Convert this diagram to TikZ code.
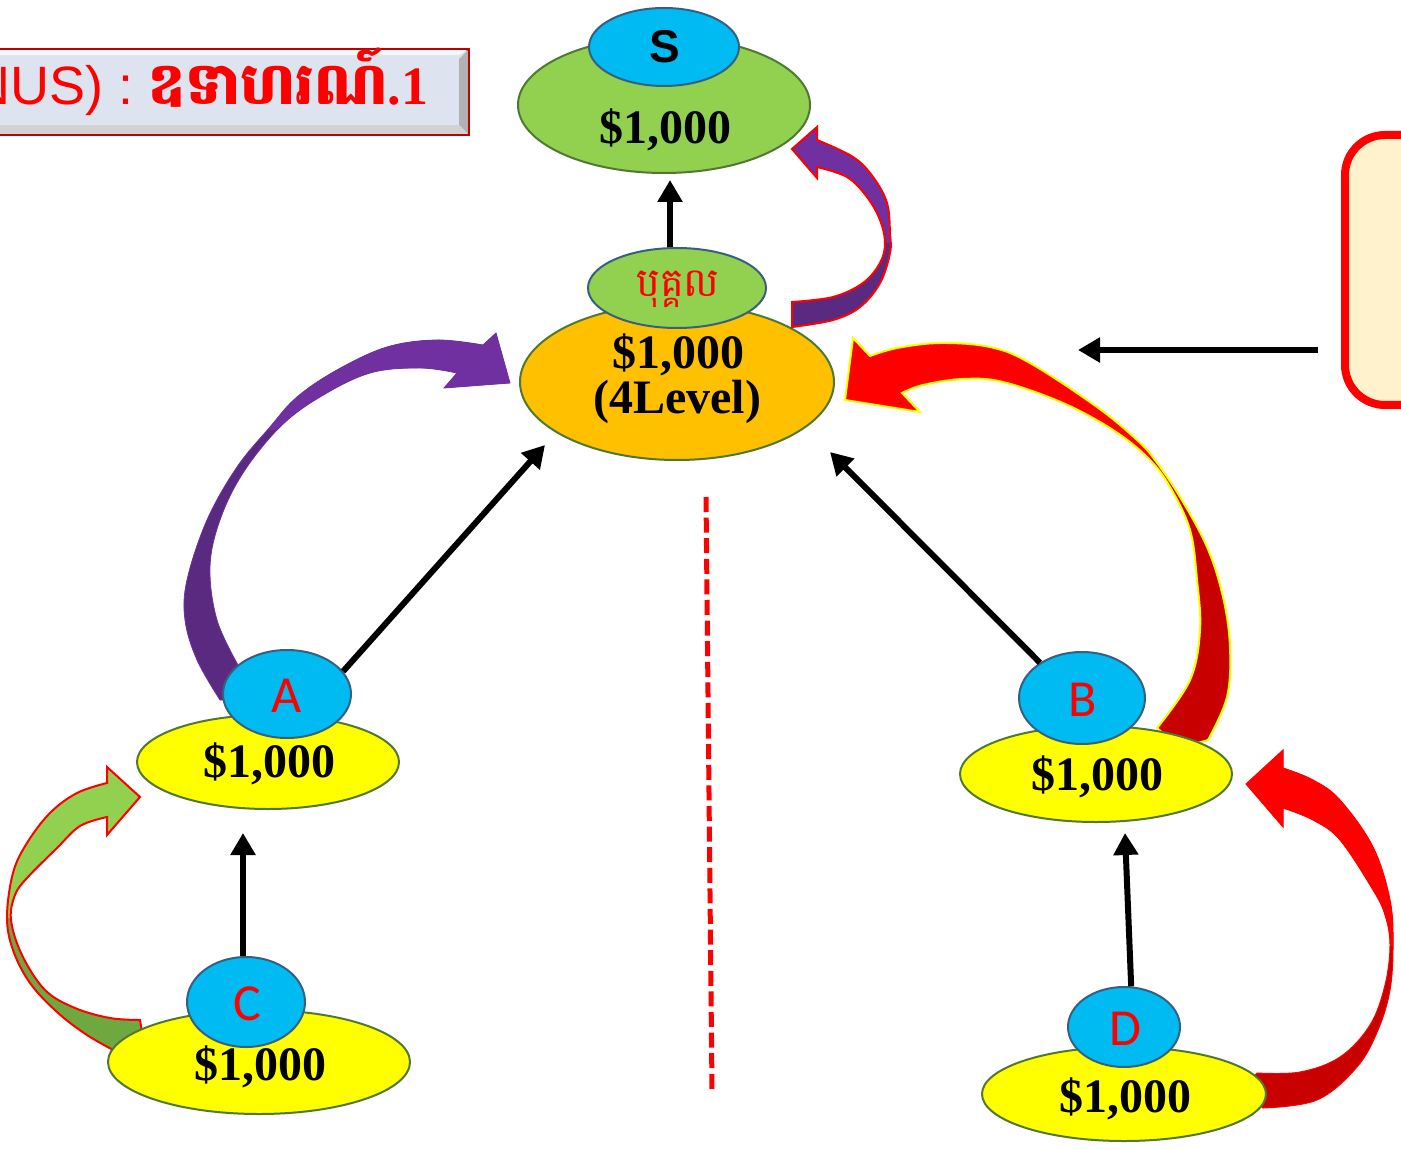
\documentclass[tikz,border=0pt]{standalone}
\usepackage{fontspec}
\setmainfont{Liberation Serif}
\newfontfamily\khmerfont[Script=Khmer]{Battambang}
\newfontfamily\carlitofont{Carlito}
\newfontfamily\arialfont{Liberation Sans}
\usetikzlibrary{shapes.geometric,arrows.meta}

\definecolor{cBlue}{RGB}{0,186,242}
\definecolor{cBlueEdge}{RGB}{55,96,128}
\definecolor{cGreen}{RGB}{146,208,80}
\definecolor{cGreenDk}{RGB}{112,168,64}
\definecolor{cOlive}{RGB}{80,120,50}
\definecolor{cOrange}{RGB}{255,192,0}
\definecolor{cYellow}{RGB}{255,255,0}
\definecolor{cRed}{RGB}{255,0,0}
\definecolor{cDarkRed}{RGB}{200,0,0}
\definecolor{cBorderRed}{RGB}{192,0,0}
\definecolor{cPurple}{RGB}{112,48,160}
\definecolor{cPurpleDk}{RGB}{90,42,128}
\definecolor{cCream}{RGB}{255,242,204}
\definecolor{cTitle}{RGB}{221,228,240}

\newcommand{\twotone}[5]{%
  \fill[#3] #1;
  \begin{scope}
    \clip (-60,-60) rectangle (1500,#4);
    \fill[#2] #1;
  \end{scope}
  \draw[#5] #1;
}

\tikzset{
  ell/.style={ellipse, inner sep=0pt, line width=1pt},
  blueell/.style={ell, fill=cBlue, draw=cBlueEdge},
  yellowell/.style={ell, fill=cYellow, draw=cOlive},
  greenell/.style={ell, fill=cGreen, draw=cOlive},
  orangeell/.style={ell, fill=cOrange, draw=cOlive},
  money/.style={anchor=base, inner sep=0pt, font=\fontsize{24}{24}\selectfont\bfseries},
  letterlbl/.style={anchor=base, inner sep=0pt, text=cRed, font=\carlitofont\fontsize{26}{26}\selectfont},
  blk/.style={draw=black, line width=3pt, -{Triangle[length=11pt,width=12pt]}},
  titlebox/.style={rectangle, inner sep=0pt, fill=cTitle, draw=cBorderRed, line width=1.2pt},
  notebox/.style={rectangle, rounded corners=20pt, inner sep=0pt, fill=cCream, draw=cRed, line width=4pt},
  dashline/.style={draw=cRed, line width=2.5pt, dash pattern=on 7.5pt off 2.8pt},
}

\begin{document}
\begin{tikzpicture}[x=0.5pt,y=-0.5pt]
\useasboundingbox (0,0) rectangle (1401,1149);
\begin{scope}
\clip (0,0) rectangle (1401,1149);

% title box
\node[titlebox, minimum width=246pt, minimum height=42pt] (T) at (222,92) {};
\fill[gray!60] (T.north east) -- (T.south east) -- ([shift={(-5pt,5pt)}]T.south east) -- ([shift={(-5pt,-5pt)}]T.north east) -- cycle;
\fill[gray!35] (T.south west) -- (T.south east) -- ([shift={(-5pt,5pt)}]T.south east) -- ([shift={(5pt,5pt)}]T.south west) -- cycle;
\fill[white!70!cTitle] (T.north west) -- (T.north east) -- ([shift={(-5pt,-3pt)}]T.north east) -- ([shift={(5pt,-3pt)}]T.north west) -- cycle;
\draw[cBorderRed, line width=1.2pt] (T.north west) rectangle (T.south east);
\node[anchor=base west, inner sep=0pt, text=cRed] (Tt) at (10,105)
  {\arialfont\fontsize{27}{27}\selectfont\llap{N}US)~:~\khmerfont\bfseries\fontsize{29}{29}\selectfont ឧទាហរណ៍\rmfamily\bfseries\fontsize{27}{27}\selectfont.1};

% note box
\node[notebox, minimum width=68pt, minimum height=135pt] (Nb) at (1413,270) {};

% block arrows behind ellipses
\twotone{(510,383) -- (496,333) -- plot[smooth, tension=0.6] coordinates {(483,345) (437,340) (387,347) (337,370) (297,397) (270,427) (237,467) (207,520) (187,580) (185,620) (197,660) (220,700)} -- (250,700) -- plot[smooth, tension=0.6] coordinates {(238,665) (217,620) (210,567) (220,520) (243,473) (280,427) (320,397) (370,373) (420,368) (457,373)} -- (444,388) -- cycle}{cPurple}{cPurpleDk}{430}{cPurple, line width=0.4pt}

\twotone{(845,400) -- (853,338) -- plot[smooth, tension=0.6] coordinates {(870,356) (897,348) (940,343) (990,347) (1030,363) (1097,407) (1137,440) (1155,460) (1180,497) (1207,547) (1223,597) (1230,647) (1227,697) (1208,740)} -- (1180,748) -- plot[smooth, tension=0.6] coordinates {(1157,728) (1190,680) (1200,630) (1197,580) (1190,530) (1170,487) (1148,458) (1113,430) (1063,403) (1003,382) (963,379) (923,385) (902,393)} -- (920,412) -- cycle}{cRed}{cDarkRed}{458}{cYellow, line width=1pt}

\twotone{(1246,784) -- (1283,750) -- plot[smooth, tension=0.6] coordinates {(1283,768) (1313,780) (1340,800) (1373,847) (1390,900) (1393,945) (1390,990) (1378,1030) (1357,1067) (1317,1100) (1263,1108)} -- (1240,1092) -- plot[smooth, tension=0.6] coordinates {(1257,1073) (1300,1072) (1340,1057) (1370,1025) (1385,985) (1390,945) (1385,915) (1373,890) (1340,840) (1313,820) (1283,808)} -- (1283,827) -- cycle}{cRed}{cDarkRed}{945}{cRed, line width=0.5pt}

\twotone{(140,797) -- (107,767) -- plot[smooth, tension=0.6] coordinates {(107,783) (77,793) (50,813) (27,843) (13,873) (7,917) (13,950) (30,983) (57,1012) (87,1035) (117,1052)} -- (145,1050) -- plot[smooth, tension=0.6] coordinates {(140,1020) (110,1018) (75,1008) (45,990) (22,955) (11,920) (15,895) (27,878) (57,848) (80,826) (107,817)} -- (107,835) -- cycle}{cGreen}{cGreenDk}{917}{cRed, line width=1pt}

% ellipses
\node[greenell, minimum width=146pt, minimum height=68pt] (Sg) at (664,105) {};
\node[blueell, minimum width=75pt, minimum height=39pt] (Sb) at (664,47) {};
\node[orangeell, minimum width=157pt, minimum height=78pt] (O) at (677,382) {};
\node[greenell, draw=cBlueEdge, minimum width=89pt, minimum height=40pt] (Bk) at (677,288) {};
\node[yellowell, minimum width=131pt, minimum height=47pt] (Ay) at (268,762) {};
\node[blueell, minimum width=64pt, minimum height=44pt] (Ab) at (287,694) {};
\node[yellowell, minimum width=151pt, minimum height=52pt] (Cy) at (259,1062) {};
\node[blueell, minimum width=59pt, minimum height=45pt] (Cb) at (246,1002) {};
\node[yellowell, minimum width=136pt, minimum height=48pt] (By) at (1096,774) {};
\node[blueell, minimum width=63pt, minimum height=46pt] (Bb) at (1082,698) {};
\node[yellowell, minimum width=142pt, minimum height=47pt] (Dy) at (1124,1094) {};
\node[blueell, minimum width=56pt, minimum height=40pt] (Db) at (1124,1027) {};

% upper purple arrow (bukkol -> S)
\twotone{(792,149) -- (817,127) -- plot[smooth, tension=0.6] coordinates {(817,140) (853,157) (873,177) (887,203) (890,233) (890,253) (880,283) (860,307) (833,320) (792,327)} -- plot[smooth, tension=0.6] coordinates {(792,302) (833,297) (863,283) (880,263) (885,243) (880,220) (867,197) (847,177) (817,167)} -- (817,178) -- cycle}{cPurple}{cPurpleDk}{243}{cRed, line width=1pt}

% texts
\node[money] (Sgt) at (665,144) {\$1,000};
\node[money] (Ot1) at (678,369) {\$1,000};
\node[money] (Ot2) at (677,414) {(4Level)};
\node[money] (Ayt) at (269,777) {\$1,000};
\node[money] (Cyt) at (260,1080) {\$1,000};
\node[money] (Byt) at (1097,790) {\$1,000};
\node[money] (Dyt) at (1125,1112) {\$1,000};
\node[anchor=base, inner sep=0pt, font=\arialfont\bfseries\fontsize{23}{23}\selectfont] (St) at (665,63) {S};
\node[letterlbl] (At) at (287,712) {A};
\node[letterlbl] (Bt) at (1083,716) {B};
\node[letterlbl] (Ct) at (247,1020) {C};
\node[letterlbl] (Dt) at (1125,1045) {D};
\node[anchor=base, inner sep=0pt, text=cRed, font=\khmerfont\fontsize{20}{20}\selectfont] (Bkt) at (678,297) {បុគ្គល};

% connectors
\coordinate (tS) at (670,180);
\coordinate (tA) at (545,445);
\coordinate (tB) at (830,452);
\coordinate (tC) at (243,833);
\coordinate (tD) at (1125,833);
\coordinate (tR) at (1078,350);
\draw[blk] (Bk.north -| tS) -- (tS);
\draw[blk] (Ab.22) -- (tA);
\draw[blk] (Bb.140) -- (tB);
\draw[blk] (Cb.north -| tC) -- (tC);
\draw[blk] (Db.80) -- (tD);
\draw[blk, shorten <=11.5pt] (Nb.west |- tR) -- (tR);

% dashed divider
\coordinate (d1) at (706,497);
\coordinate (d2) at (712,1090);
\draw[dashline] (d1) -- (d2);
\end{scope}
\end{tikzpicture}
\end{document}
